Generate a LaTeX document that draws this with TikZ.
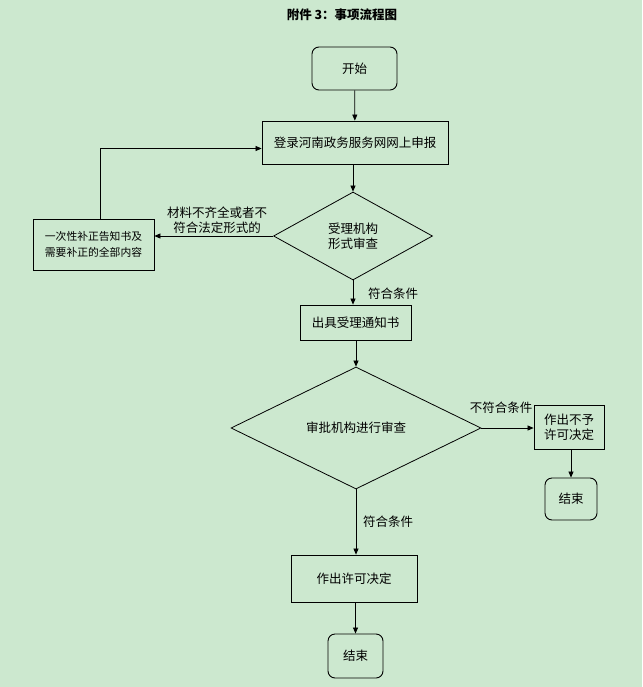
\documentclass[tikz,border=0pt]{standalone}
\usepackage{fontspec}
\setmainfont{Noto Sans CJK SC}
\usetikzlibrary{shapes.geometric,arrows.meta}
\definecolor{bg}{RGB}{204,232,207}
\begin{document}
\begin{tikzpicture}[x=1pt,y=-1pt,
  every node/.style={font=\fontsize{12.5}{15}\selectfont, align=center},
  box/.style={draw, line width=0.8pt, inner sep=0pt},
  term/.style={draw, line width=0.9pt, rounded corners=7pt, inner sep=0pt},
  dia/.style={draw, diamond, line width=0.8pt, inner sep=0pt},
  arr/.style={line width=0.7pt, -{Triangle[length=6pt,width=5pt]}},
  lbl/.style={inner sep=0pt}]
\fill[bg] (0,0) rectangle (642,687);
\useasboundingbox (0,0) rectangle (642,687);
\node[font=\bfseries\fontsize{12.5}{14}\selectfont] (title) at (342,15) {附件 3：事项流程图};
\node[term, minimum width=85pt, minimum height=43pt] (start) at (354.5,68.5) {开始};
\node[box, minimum width=186pt, minimum height=43pt] (login) at (355,142.5) {登录河南政务服务网网上申报};
\node[dia, minimum width=159pt, minimum height=88pt] (d1) at (353,236) {受理机构\\形式审查};
\node[box, minimum width=121pt, minimum height=51pt, font=\fontsize{10.8}{16}\selectfont] (left) at (93.5,244.5) {一次性补正告知书及\\需要补正的全部内容};
\node[box, minimum width=111pt, minimum height=35pt] (acc) at (355.5,322.5) {出具受理通知书};
\node[dia, minimum width=250pt, minimum height=122pt] (d2) at (356,428) {审批机构进行审查};
\node[box, minimum width=70pt, minimum height=44pt] (deny) at (569,427) {作出不予\\许可决定};
\node[term, minimum width=52pt, minimum height=42pt] (end1) at (571,499) {结束};
\node[box, minimum width=126pt, minimum height=47pt] (perm) at (354,578.5) {作出许可决定};
\node[term, minimum width=55pt, minimum height=44pt] (end2) at (355.5,656) {结束};
\coordinate (c1) at (100,148.5);
\draw[arr] (start) -- (login);
\draw[arr] (login.south -| d1.north) -- (d1.north);
\draw[arr] (d1.west) -- (left.east |- d1.west);
\draw[arr] (left.north -| c1) -- (c1) -- (c1 -| login.west);
\draw[arr] (d1.south) -- (d1.south |- acc.north);
\draw[arr] (acc.south -| d2.north) -- (d2.north);
\draw[arr] (d2.east) -- (deny.west |- d2.east);
\draw[arr] (deny.south -| end1.north) -- (end1.north);
\draw[arr] (d2.south) -- (d2.south |- perm.north);
\draw[arr] (perm.south -| end2.north) -- (end2.north);
\node[lbl] (l1) at (217,220) {材料不齐全或者不\\符合法定形式的};
\node[lbl] (l2) at (393,294) {符合条件};
\node[lbl] (l3) at (501,408) {不符合条件};
\node[lbl] (l4) at (388,522) {符合条件};
\end{tikzpicture}
\end{document}
